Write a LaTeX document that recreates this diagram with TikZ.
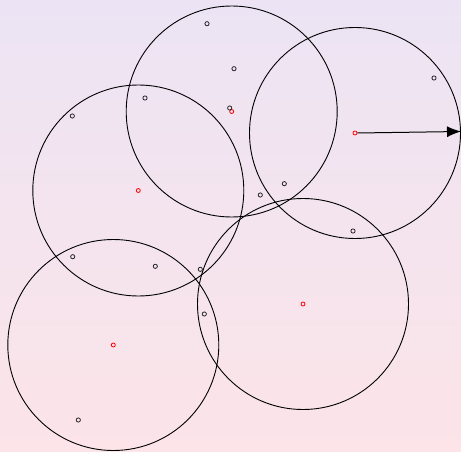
\documentclass[tikz,border=0pt]{standalone}
\usetikzlibrary{arrows.meta}
\definecolor{bgtop}{RGB}{236,228,244}
\definecolor{bgbot}{RGB}{252,228,232}
\tikzset{
  disk/.style={circle,draw=black,line width=0.9pt,minimum size=211pt,inner sep=0pt},
  ctr/.style={circle,draw=red,line width=0.8pt,minimum size=4pt,inner sep=0pt},
  pt/.style={circle,draw=black!85,line width=0.8pt,minimum size=4.2pt,inner sep=0pt},
  ray/.style={line width=1pt,-{Latex[length=14pt,width=11pt]}}
}
\begin{document}
\begin{tikzpicture}[x=1pt,y=-1pt]
\shade[top color=bgtop,bottom color=bgbot] (0,0) rectangle (461,452);
\useasboundingbox (0,0) rectangle (461,452);
% circles
\node[disk] (c1) at (231.7,111.5) {};
\node[disk] (c2) at (138.3,190.5) {};
\node[disk] (c3) at (355,133) {};
\node[disk] (c4) at (113.3,345) {};
\node[disk] (c5) at (303,304) {};
% centers
\node[ctr] (o1) at (231.7,111.5) {};
\node[ctr] (o2) at (138.3,190.5) {};
\node[ctr] (o3) at (355,133) {};
\node[ctr] (o4) at (113.3,345) {};
\node[ctr] (o5) at (303,304) {};
% points
\node[pt] (p1) at (207,23.7) {};
\node[pt] (p2) at (234,68.7) {};
\node[pt] (p3) at (229.7,108) {};
\node[pt] (p4) at (145,98) {};
\node[pt] (p5) at (72.3,116) {};
\node[pt] (p6) at (284.3,183.7) {};
\node[pt] (p7) at (260.3,195) {};
\node[pt] (p8) at (434,78) {};
\node[pt] (p9) at (353,231) {};
\node[pt] (p10) at (72.7,256.7) {};
\node[pt] (p11) at (155.3,266.3) {};
\node[pt] (p12) at (200.3,269.3) {};
\node[pt] (p13) at (204.3,314) {};
\node[pt] (p14) at (78.3,420) {};
% arrow
\coordinate (tip) at (461,131.5);
\draw[ray] (o3.east) -- (tip);
\end{tikzpicture}
\end{document}
